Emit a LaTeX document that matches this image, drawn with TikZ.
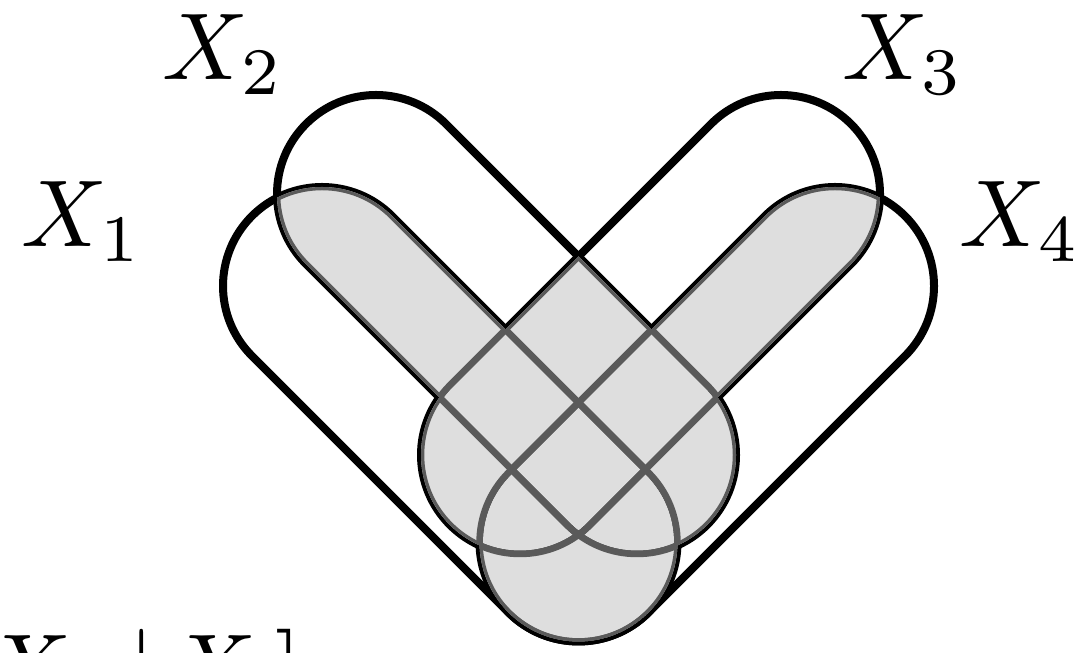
\documentclass[tikz,border=0pt]{standalone}
\definecolor{shadefill}{RGB}{222,222,222}
\definecolor{innerline}{RGB}{90,90,90}
\tikzset{
  outerline/.style={draw=black, line width=0.08cm},
  greyline/.style={draw=innerline, line width=0.065cm},
  regionfill/.style={fill=shadefill},
  setlabel/.style={inner sep=0pt, scale=2.7}
}
\begin{document}
\begin{tikzpicture}[x=0.01cm, y=0.01cm]
\useasboundingbox (0,0) rectangle (1083,652);
% the four sets as stadiums
\path[shift={(322,366)}, rotate=-45, save path=\pA]
  (0,-99) -- (362.7,-99) arc[start angle=-90, end angle=90, radius=99]
  -- (0,99) arc[start angle=90, end angle=270, radius=99] -- cycle;
\path[shift={(376,458)}, rotate=-45, save path=\pB]
  (0,-99) -- (369.1,-99) arc[start angle=-90, end angle=90, radius=99]
  -- (0,99) arc[start angle=90, end angle=270, radius=99] -- cycle;
\path[shift={(781,458)}, rotate=-135, save path=\pC]
  (0,-99) -- (369.1,-99) arc[start angle=-90, end angle=90, radius=99]
  -- (0,99) arc[start angle=90, end angle=270, radius=99] -- cycle;
\path[shift={(835,366)}, rotate=-135, save path=\pD]
  (0,-99) -- (362.7,-99) arc[start angle=-90, end angle=90, radius=99]
  -- (0,99) arc[start angle=90, end angle=270, radius=99] -- cycle;
% black outlines
\path[outerline, use path=\pA];
\path[outerline, use path=\pB];
\path[outerline, use path=\pC];
\path[outerline, use path=\pD];
% shaded: points in at least two sets
\foreach \ca/\cb in {\pA/\pB,\pA/\pC,\pA/\pD,\pB/\pC,\pB/\pD,\pC/\pD}{
  \begin{scope}
    \clip[use path=\ca];
    \path[regionfill, use path=\cb];
  \end{scope}
}
\foreach \ca/\cb in {\pA/\pB,\pA/\pC,\pA/\pD,\pB/\pC,\pB/\pD,\pC/\pD}{
  \begin{scope}
    \clip[use path=\ca];
    \clip[use path=\cb];
    \path[greyline, use path=\pA];
    \path[greyline, use path=\pB];
    \path[greyline, use path=\pC];
    \path[greyline, use path=\pD];
  \end{scope}
}
% labels
\node[setlabel, anchor=base west] (l1) at (20,405) {$X_1$};
\node[setlabel, anchor=base west] (l2) at (161,572) {$X_2$};
\node[setlabel, anchor=base west] (l3) at (841,572) {$X_3$};
\node[setlabel, anchor=base west] (l4) at (958,405) {$X_4$};
\node[setlabel, anchor=base east] (cap) at (304,-48) {$X_2 \mathrel{\mkern-1mu|\mkern-2mu} X_1\mkern-3mu]$};
\end{tikzpicture}
\end{document}
